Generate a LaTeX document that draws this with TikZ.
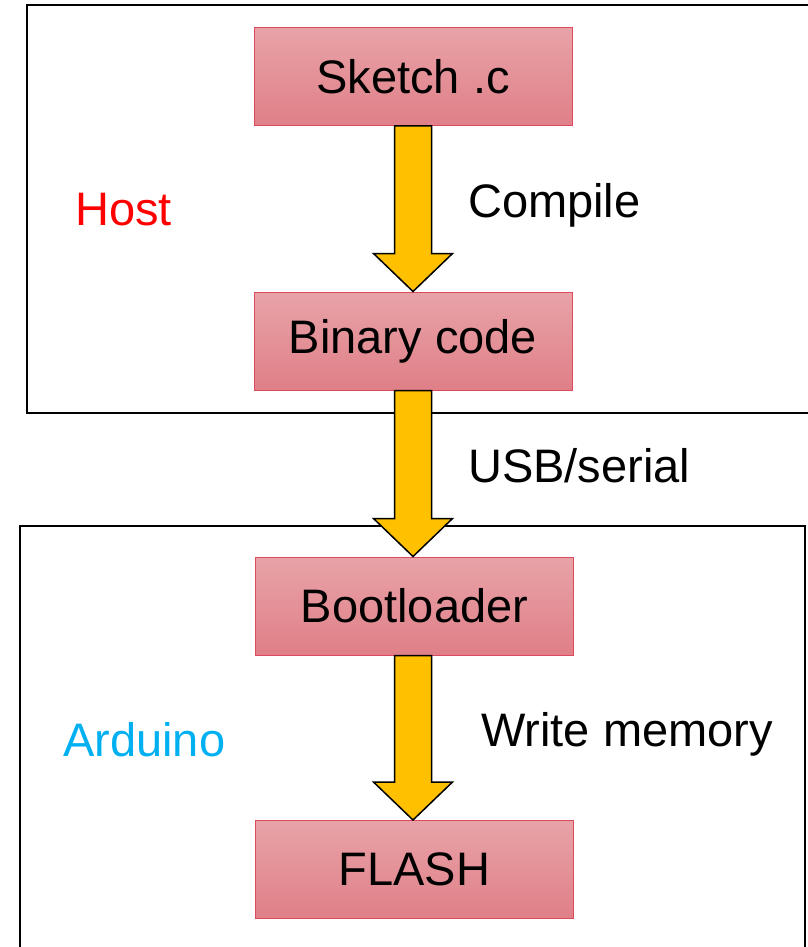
\documentclass[tikz,border=0pt]{standalone}
\usepackage{fontspec}
\setmainfont{Liberation Sans}
\usetikzlibrary{calc}
\definecolor{boxtop}{HTML}{E8A3A8}
\definecolor{boxbot}{HTML}{E07F87}
\definecolor{boxline}{HTML}{DC4A5E}
\definecolor{arrowfill}{HTML}{FFC000}
\definecolor{arduinoblue}{HTML}{00B0F0}
\tikzset{
  stage/.style={draw=boxline, line width=1pt, top color=boxtop, bottom color=boxbot,
    rectangle, minimum width=318pt, minimum height=98pt, inner sep=0pt,
    font=\fontsize{47}{56}\selectfont},
  steplabel/.style={anchor=west, inner sep=0pt, font=\fontsize{47}{56}\selectfont},
  blockarrow/.style={draw=black, fill=arrowfill, line width=1.5pt, line join=miter},
  side/.style={draw=black, line width=1.5pt}
}
\newcommand{\blockarrow}[2]{%
  \draw[blockarrow] let \p1=(#1.south), \p2=(#2.north) in
    (413pt-18.5pt,\y1) -- (413pt+18.5pt,\y1) -- (413pt+18.5pt,\y2+38pt)
    -- (413pt+39.5pt,\y2+38pt) -- (413pt,\y2) -- (413pt-39.5pt,\y2+38pt)
    -- (413pt-18.5pt,\y2+38pt) -- cycle;}
\begin{document}
\begin{tikzpicture}[x=1pt,y=-1pt]
  \useasboundingbox (0,0) rectangle (807,947);

  \draw[side] (27,5) rectangle (830,413);
  \draw[side] (20,526) rectangle (805,970);

  \node (sketch) [stage] at (413,76.5) {Sketch .c};
  \node (binary) [stage] at (413,341) {Binary code};
  \node (boot) [stage] at (414.5,606) {Bootloader};
  \node (flash) [stage] at (414.5,869.5) {FLASH};

  \blockarrow{sketch}{binary}
  \blockarrow{binary}{boot}
  \blockarrow{boot}{flash}

  \node (host) [steplabel, text=red] at (75,210) {Host};
  \node (arduino) [steplabel, text=arduinoblue] at (63,740) {Arduino};
  \node (compile) [steplabel] at (468,205) {Compile};
  \node (usb) [steplabel] at (468,466) {USB/serial};
  \node (write) [steplabel] at (481,734) {Write memory};
\end{tikzpicture}
\end{document}
